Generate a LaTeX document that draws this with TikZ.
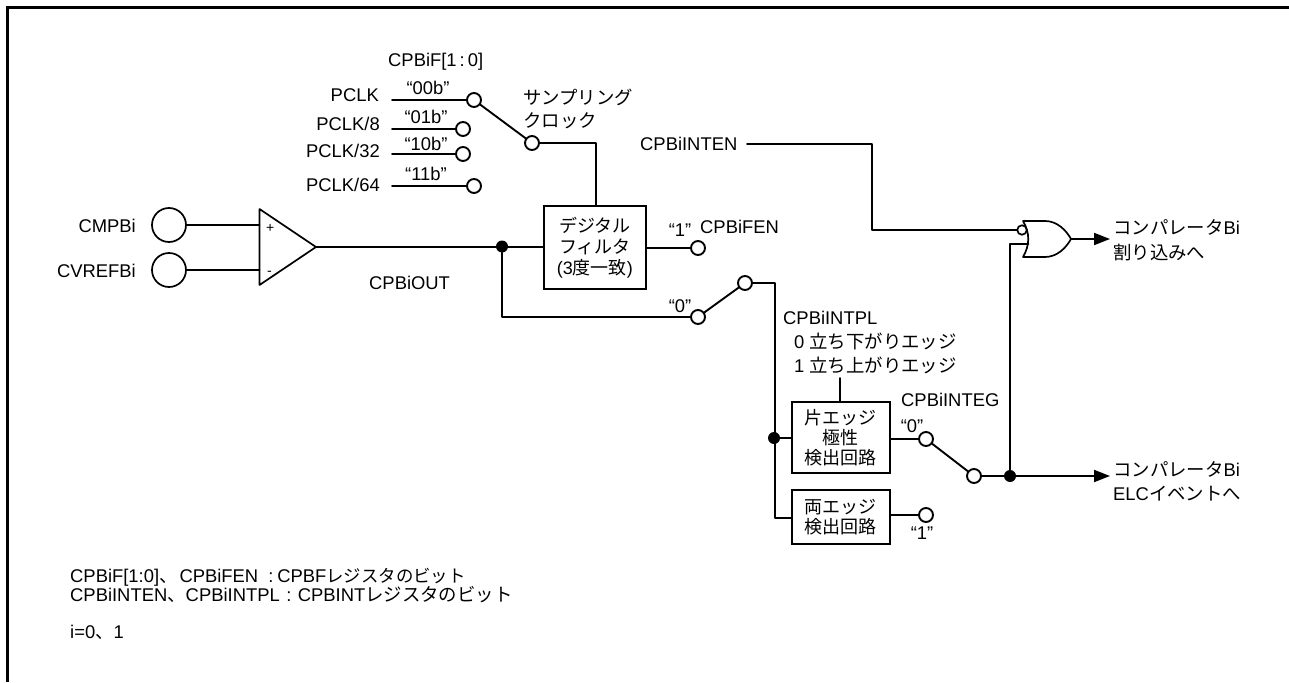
\documentclass[tikz,border=0pt]{standalone}
\usepackage{fontspec}
\setmainfont{Liberation Sans}
\newfontfamily\jp{Noto Sans CJK JP}
\usetikzlibrary{arrows.meta}
\newcommand{\J}[1]{{\jp #1}}
\tikzset{
 wire/.style={line width=1.9pt,line cap=round,line join=round},
 blockbox/.style={draw,line width=1.9pt,fill=white,inner sep=0pt,align=center,anchor=north west,font=\fontsize{18}{20}\selectfont\jp},
 pin/.style={circle,draw,line width=1.9pt,fill=white,minimum size=14pt,inner sep=0pt},
 bigpin/.style={circle,draw,line width=1.7pt,fill=white,minimum size=34pt,inner sep=0pt},
 dot/.style={circle,fill=black,minimum size=12pt,inner sep=0pt},
 bubble/.style={circle,draw,line width=1.7pt,fill=white,minimum size=9.5pt,inner sep=0pt},
 lbl/.style={inner sep=0pt,font=\fontsize{18.4}{20}\selectfont,anchor=base west},
 lble/.style={lbl,anchor=base east},
 lblc/.style={lbl,anchor=base},
 tipped/.style={wire,-{Triangle[length=16pt,width=12pt]}},
}
\begin{document}
\begin{tikzpicture}[x=1pt,y=-1pt]
\useasboundingbox (0,0) rectangle (1289,682);
\draw[line width=3pt] (7.5,682) -- (7.5,7.3) -- (1289,7.3);

% named points
\coordinate (pa) at (392,100);
\coordinate (pb) at (392,129);
\coordinate (pc) at (392,154);
\coordinate (pd) at (392,186);
\coordinate (inten) at (747,144);
\coordinate (ampP) at (259.5,225);
\coordinate (ampN) at (259.5,270);
\coordinate (ampO) at (316,247);
\coordinate (orA) at (1018,230);
\coordinate (orB) at (1028.5,244);
\coordinate (orO) at (1071,239);
\coordinate (tipA) at (1110,239);
\coordinate (tipB) at (1110,476);
\coordinate (polTop) at (840,378);

% nodes
\node[pin] (s0) at (474,100) {};
\node[pin] (s1) at (463,129) {};
\node[pin] (s2) at (463,154) {};
\node[pin] (s3) at (474,186) {};
\node[pin] (sc) at (532,143) {};
\node[pin] (f1) at (698,248) {};
\node[pin] (f0) at (698,317) {};
\node[pin] (fc) at (745,283) {};
\node[pin] (e0) at (926,439) {};
\node[pin] (e1) at (926,515) {};
\node[pin] (ec) at (974,476) {};
\node[bigpin] (cmp) at (169,225) {};
\node[bigpin] (cvr) at (169,270) {};
\node[dot] (d1) at (502,246.5) {};
\node[dot] (d2) at (774,438) {};
\node[dot] (d3) at (1010,476) {};
\node[blockbox,minimum width=102pt,minimum height=83pt] (filt) at (543,205) {デジタル\\[1pt]フィルタ\\[1pt]{\fontspec{Liberation Sans}(3}度一致{\fontspec{Liberation Sans})}};
\node[blockbox,minimum width=98pt,minimum height=71pt] (one) at (791,401) {片エッジ\\極性\\検出回路};
\node[blockbox,minimum width=98pt,minimum height=54pt] (both) at (791,489) {両エッジ\\検出回路};

% connectors
\draw[wire] (pa) -- (s0);
\draw[wire] (pb) -- (s1);
\draw[wire] (pc) -- (s2);
\draw[wire] (pd) -- (s3);
\draw[wire] (s0) -- (sc);
\draw[wire] (sc) -| (filt.north -| 596,0);
\draw[wire] (cmp) -- (ampP);
\draw[wire] (cvr) -- (ampN);
\draw[wire] (ampO) -- (filt.west |- ampO);
\draw[wire] (filt.east |- f1) -- (f1);
\draw[wire] (d1) |- (f0);
\draw[wire] (f0) -- (fc);
\draw[wire] (fc) -| (775,518) -- (both.west |- 0,518);
\draw[wire] (d2) -- (one.west |- d2);
\draw[wire] (polTop) -- (one.north -| polTop);
\draw[wire] (one.east |- e0) -- (e0);
\draw[wire] (both.east |- e1) -- (e1);
\draw[wire] (e0) -- (ec);
\draw[wire] (ec) -- (d3);
\draw[wire] (inten) -| (872,230) -- (orA);
\draw[wire] (d3) |- (orB);
\draw[tipped] (orO) -- (tipA);
\draw[tipped] (d3) -- (tipB);

% comparator and gate
\draw[wire,line width=1.7pt] (259.5,209) -- (259.5,285) -- (ampO) -- cycle;
\draw[wire,line width=1.7pt] (1023,221) .. controls (1030,233) and (1030,245) .. (1023,257) -- (1045,257) .. controls (1057,257) and (1066,248) .. (orO) .. controls (1066,230) and (1057,221) .. (1045,221) -- cycle;
\node[bubble] (nb) at (1022,230) {};

% labels
\node[lbl] (t1) at (388,67) {CPBiF[1\hspace{3pt}:\hspace{3pt}0]};
\node[lble] (t2) at (379,102) {PCLK};
\node[lble] (t3) at (380,131) {PCLK/8};
\node[lble] (t4) at (380,157) {PCLK/32};
\node[lble] (t5) at (380,191) {PCLK/64};
\node[lblc] (t6) at (428,95) {“00b”};
\node[lblc] (t7) at (426,124) {“01b”};
\node[lblc] (t8) at (426,150) {“10b”};
\node[lblc] (t9) at (426,180) {“11b”};
\node[lbl] (t10) at (523,105) {\J{サンプリング}};
\node[lbl] (t11) at (523,128) {\J{クロック}};
\node[lbl] (t12) at (640,150.5) {CPBiINTEN};
\node[lble] (t13) at (136,232) {CMPBi};
\node[lble] (t14) at (136,277) {CVREFBi};
\node[lbl,font=\fontsize{14}{16}\selectfont] (t15) at (266,232) {+};
\node[lbl,font=\fontsize{14}{16}\selectfont] (t16) at (267,275) {-};
\node[lbl] (t17) at (369,289) {CPBiOUT};
\node[lblc] (t18) at (680,236) {“1”};
\node[lbl] (t19) at (700,233.5) {CPBiFEN};
\node[lblc] (t20) at (680,312) {“0”};
\node[lbl] (t21) at (783,324) {CPBiINTPL};
\node[lbl] (t22) at (794,348) {0 \J{立ち下がりエッジ}};
\node[lbl] (t23) at (794,372) {1 \J{立ち上がりエッジ}};
\node[lbl] (t24) at (901,406) {CPBiINTEG};
\node[lblc] (t25) at (912,432) {“0”};
\node[lblc] (t26) at (922,539) {“1”};
\node[lbl] (t27) at (1113,234) {\J{コンパレータ}Bi};
\node[lbl] (t28) at (1113,259) {\J{割り込みへ}};
\node[lbl] (t29) at (1113,476) {\J{コンパレータ}Bi};
\node[lbl] (t30) at (1113,500) {ELC\J{イベントへ}};
\node[lbl] (t31) at (70,582.7) {CPBiF[1:0]\J{、}\hspace{2pt}CPBiFEN\hspace{10pt}:\hspace{4pt}CPBF{\jp\fontsize{17.4}{20}\selectfont レジスタのビット}};
\node[lbl] (t32) at (70,601.7) {CPBiINTEN\J{、}CPBiINTPL\hspace{6.5pt}:\hspace{6.5pt}CPBINT\J{レジスタのビット}};
\node[lbl] (t33) at (70,638) {i=0\J{、}1};
\end{tikzpicture}
\end{document}
